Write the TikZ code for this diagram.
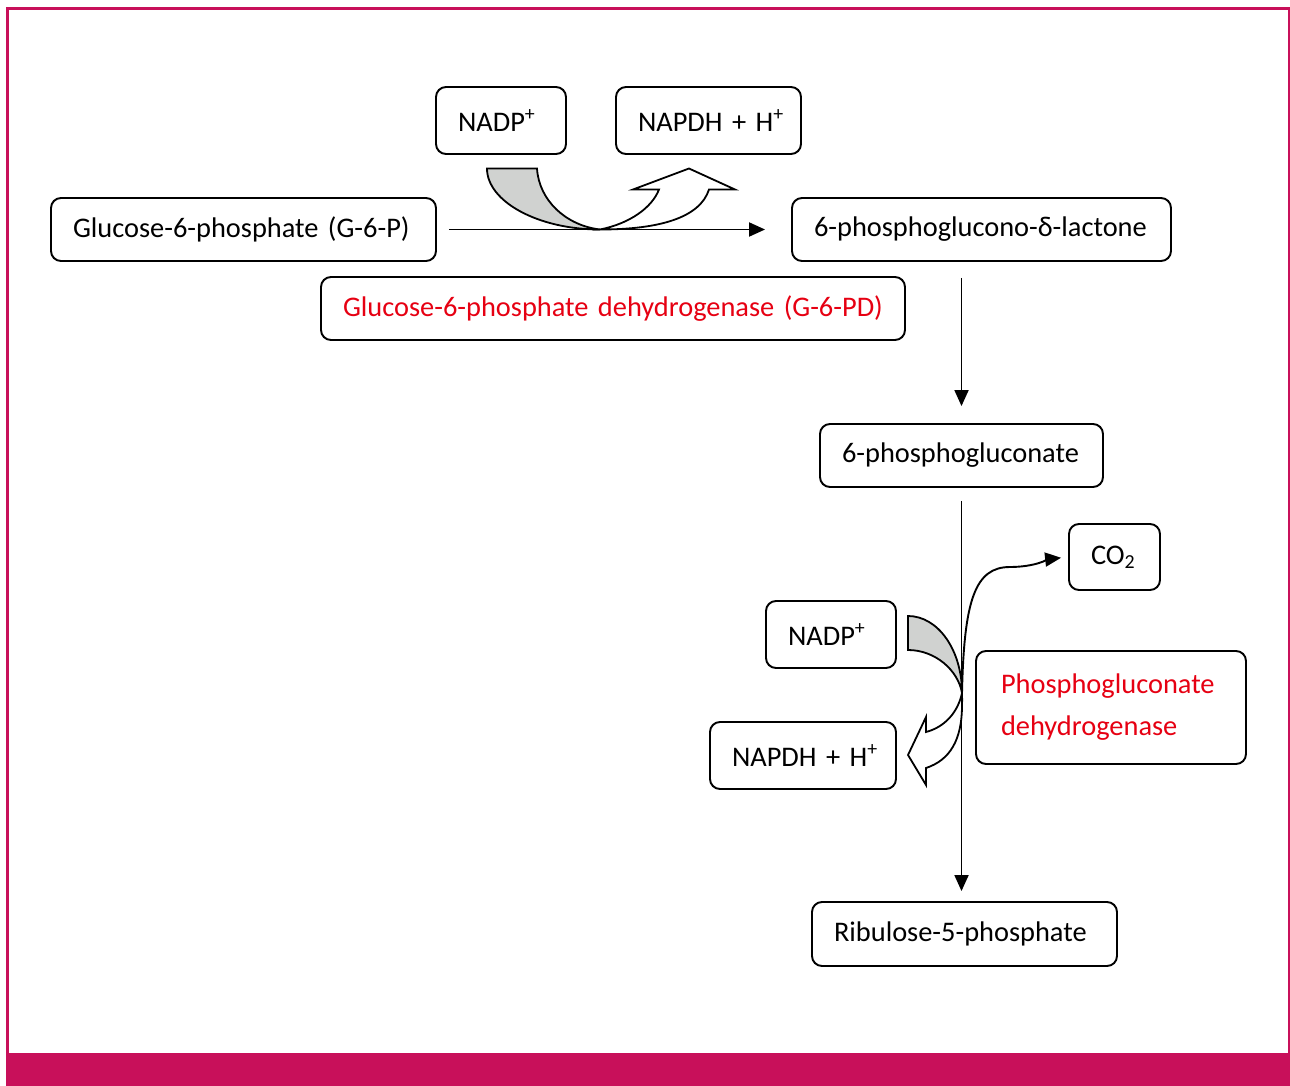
\documentclass[tikz,border=0pt]{standalone}
\usepackage{fontspec}
\setmainfont{Carlito}
\usepackage{xcolor}
\definecolor{rimred}{RGB}{200,16,90}
\definecolor{enzred}{RGB}{230,0,18}
\definecolor{bandgray}{RGB}{208,210,208}
\usepackage{tikz}
\usetikzlibrary{arrows.meta,calc}
\exhyphenpenalty=10000
\hyphenpenalty=10000
\tikzset{
  >={Triangle[length=8pt,width=7pt]},
  metab/.style={rectangle,draw,line width=0.95pt,rounded corners=5pt,inner xsep=11pt,inner ysep=0pt,minimum height=31.5pt,align=left,font=\fontsize{14.2}{17}\selectfont},
  enzyme/.style={metab,text=enzred},
  flow/.style={->,line width=0.95pt},
  intake/.style={draw,line width=0.9pt,fill=bandgray},
  release/.style={draw,line width=0.9pt,fill=white}
}

\begin{document}
\begin{tikzpicture}[x=0.5pt,y=-0.5pt]
  \useasboundingbox (0,0) rectangle (1290,1086);

  % Frame
  \fill[rimred] (6,1053) rectangle (1290,1086);
  \draw[rimred,line width=1.5pt] (7.5,1053) -- (7.5,8.5) -- (1290,8.5);
  \draw[rimred,line width=1pt] (1289,8.5) -- (1289,1053);

  % Metabolites
  \node[metab,text width=43pt,minimum height=33.5pt] (nadp1) at (501,120.5) {NADP\textsuperscript{+}};
  \node[metab,text width=70.5pt,minimum height=33.5pt] (napdh1) at (708.5,120.5) {NAPDH~+~H\textsuperscript{+}};
  \node[metab,text width=170.5pt] (g6p) at (243.5,229.5) {Glucose-6-phosphate~(G-6-P)};
  \node[metab,text width=167.5pt] (lactone) at (981.5,229.5) {6-phosphoglucono-δ-lactone};
  \node[enzyme,text width=270pt] (g6pd) at (613,308.5) {Glucose-6-phosphate~dehydrogenase~(G-6-PD)};
  \node[metab,text width=119.5pt] (gluconate) at (961.5,455.5) {6-phosphogluconate};
  \node[metab,text width=23.5pt,minimum height=33pt] (co2) at (1114.5,557) {CO\textsubscript{2}};
  \node[metab,text width=43pt,minimum height=33.5pt] (nadp2) at (831,634.5) {NADP\textsuperscript{+}};
  \node[metab,text width=71pt,minimum height=33.5pt] (napdh2) at (803,755.5) {NAPDH~+~H\textsuperscript{+}};
  \node[enzyme,inner xsep=12.5pt,text width=110pt,minimum height=56.5pt,font=\fontsize{14.2}{21}\selectfont] (pgd) at (1111,707.5) {Phosphogluconate\\dehydrogenase};
  \node[metab,text width=130.5pt,minimum height=32pt] (ribulose) at (964.5,934) {Ribulose-5-phosphate};

  % Cofactor arrows, first step
  \begin{scope}[yshift=1.25pt]
    \filldraw[intake] (487,171) -- (537,171) .. controls (539,203) and (566,228) .. (600,232)
      .. controls (538,232) and (487,204) .. (487,171) -- cycle;
    \filldraw[release] (600,232) .. controls (630,226) and (652,210) .. (659,192)
      -- (633,192) -- (689,171) -- (735,192) -- (709,192)
      .. controls (700,220) and (660,232) .. (600,232) -- cycle;
  \end{scope}

  % Cofactor arrows, third step
  \filldraw[intake] (908,616) .. controls (938,616) and (962,650) .. (962,693)
    .. controls (958,670) and (935,650) .. (908,650) -- cycle;
  \filldraw[release] (962,693) .. controls (958,712) and (945,727) .. (926,732)
    -- (926,717) -- (908,755) -- (926,785) -- (926,768)
    .. controls (950,760) and (962,740) .. (962,705) -- cycle;

  % Arrows
  \draw[flow,shorten <=6pt,shorten >=13pt] (g6p) -- (lactone);
  \draw[flow,shorten <=8pt,shorten >=8.5pt] (lactone.south -| gluconate) -- (gluconate.north);
  \draw[flow,shorten <=6.5pt,shorten >=5pt] (gluconate.south) -- (gluconate.south |- ribulose.north);
  \coordinate (split) at (962,693);
  \draw[flow,shorten >=3.5pt] (split) .. controls (964,600) and (975,567) .. (1010,567)
    .. controls (1035,567) and (1050,559) .. (co2.west);
\end{tikzpicture}
\end{document}
